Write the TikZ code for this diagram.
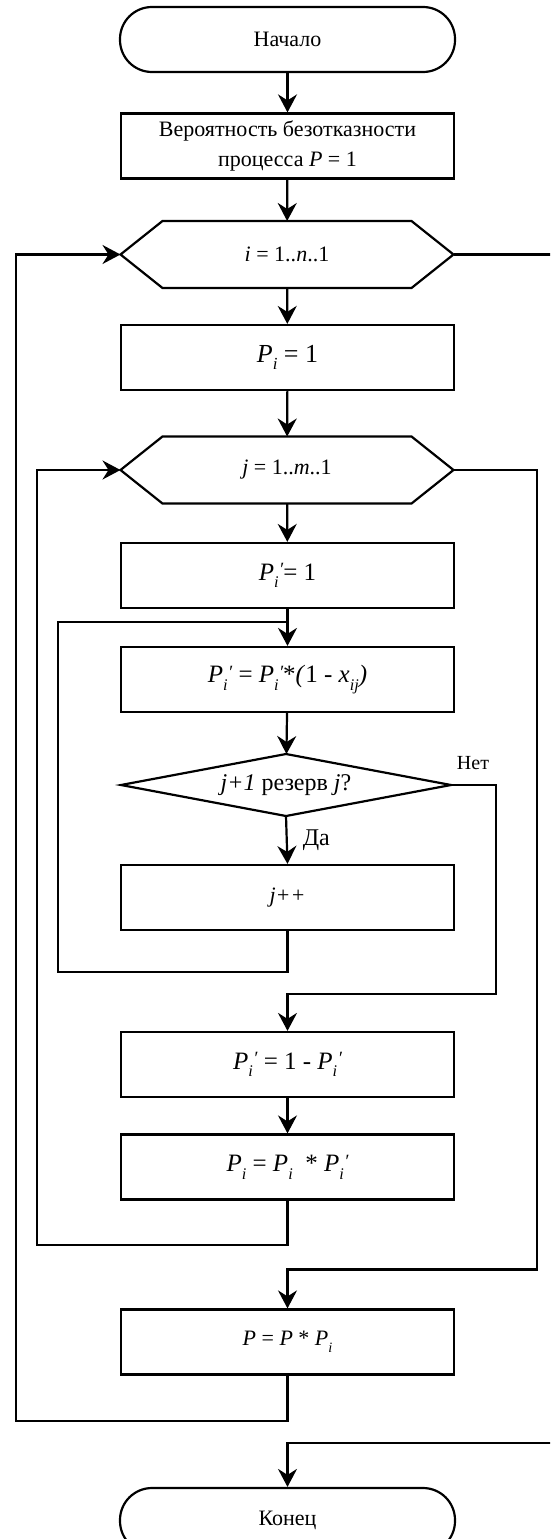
\documentclass[tikz,border=0pt]{standalone}
\usepackage{fontspec}
\setmainfont{Liberation Serif}
\usetikzlibrary{arrows.meta}
\newcommand\sbi[1]{\raisebox{-0.3em}{\scalebox{0.65}{\itshape #1}}}
\newcommand\prm{\raisebox{0.18em}{\scalebox{0.75}{\itshape ′}}}
\newcommand\Pa{\textit{P}\sbi{i}}
\newcommand\Pb{\textit{P}\sbi{i}\kern0.02em\prm}
\begin{document}
\begin{tikzpicture}[x=1pt,y=-1pt, line width=2.2pt,
  txt/.style={font=\fontsize{22}{30}\selectfont},
  fbig/.style={font=\fontsize{25}{30}\selectfont},
  box/.style={draw, rectangle, minimum width=333pt, minimum height=65pt, inner sep=0pt, align=center, txt},
  term/.style={box, rounded corners=32pt, minimum width=335pt},
  hexn/.style={rectangle, minimum width=333pt, minimum height=67pt, inner sep=0pt, outer sep=0pt, txt},
  dmn/.style={rectangle, minimum width=330pt, minimum height=62pt, inner sep=0pt, outer sep=0pt, font=\fontsize{24}{30}\selectfont},
  lbl/.style={font=\fontsize{21}{24}\selectfont, inner sep=0pt},
  arr/.style={-{Stealth[length=18pt,width=19pt,inset=6pt]}}]
\useasboundingbox (0,0) rectangle (550,1539);
\clip (0,0) rectangle (550,1539);

\node[term] (start) at (287.5,39.5) {Начало};
\node[box] (init) at (287.5,146) {Вероятность безотказности\\процесса \textit{P} = 1};
\node[hexn] (ihex) at (287,254.5) {\textit{i} = 1..\textit{n}..1};
\draw (ihex.west) -- ([xshift=42pt]ihex.north west) -- ([xshift=-42pt]ihex.north east) -- (ihex.east) -- ([xshift=-42pt]ihex.south east) -- ([xshift=42pt]ihex.south west) -- cycle;
\node[box,font=\fontsize{26}{30}\selectfont] (pi) at (287.5,357.5) {\Pa{} = 1};
\node[hexn] (jhex) at (287,470) {\textit{j} = 1..\textit{m}..1};
\draw (jhex.west) -- ([xshift=42pt]jhex.north west) -- ([xshift=-42pt]jhex.north east) -- (jhex.east) -- ([xshift=-42pt]jhex.south east) -- ([xshift=42pt]jhex.south west) -- cycle;
\node[box,fbig] (p1) at (287.5,575.5) {\Pb{}= 1};
\node[box,fbig] (p2) at (287.5,679.5) {\Pb{} = \Pb{}*\textit{(}1 - \textit{x}\sbi{ij}\textit{)}};
\node[dmn] (dec) at (286,785) {\textit{j+1} резерв \textit{j}?};
\draw (dec.west) -- (dec.north) -- (dec.east) -- (dec.south) -- cycle;
\node[box] (jpp) at (287.5,897.5) {\textit{j++}};
\node[box,fbig] (p3) at (287.5,1064.5) {\Pb{} = 1 - \Pb};
\node[box,fbig] (p4) at (287.5,1167) {\Pa{} = \Pa{}~ * \Pb};
\node[box] (pp) at (287.5,1342) {\textit{P} = \textit{P} * \Pa};
\node[term] (end) at (287.5,1520.5) {Конец};

\coordinate (jn1) at (287.5,622);
\coordinate (lp1) at (58,972);
\coordinate (lp2) at (58,622);
\coordinate (n1) at (496,994);
\coordinate (n2) at (287.5,994);
\coordinate (c1) at (37,1245);
\coordinate (c2) at (537,1269.5);
\coordinate (c3) at (287.5,1269.5);
\coordinate (c4) at (16,1421);
\coordinate (c5) at (560,254.5);
\coordinate (c6) at (560,1443);

\draw[arr] (start) -- (init);
\draw[arr] (init) -- (ihex);
\draw[arr] (ihex) -- (pi);
\draw[arr] (pi) -- (jhex);
\draw[arr] (jhex) -- (p1);
\draw[arr] (p1) -- (p2);
\draw (jpp.south) |- (lp1) -- (lp2) -- (jn1);
\draw[arr] (p2) -- (dec);
\draw[arr] (dec.south) -- (jpp.north) node[midway, right=15pt, font=\fontsize{24}{26}\selectfont, inner sep=0pt] {Да};
\draw[arr] (dec.east) -| (n1) -- (n2) -- (p3.north);
\node[font=\fontsize{20}{24}\selectfont, inner sep=0pt] (net) at (473,763) {Нет};
\draw[arr] (p3) -- (p4);
\draw[arr] (p4.south) |- (c1) |- (jhex.west);
\draw[arr] (jhex.east) -| (c2) -- (c3) -- (pp.north);
\draw[arr] (pp.south) |- (c4) |- (ihex.west);
\draw (ihex.east) -- (c5);
\draw[arr] (c6) -| (end.north);
\end{tikzpicture}
\end{document}
